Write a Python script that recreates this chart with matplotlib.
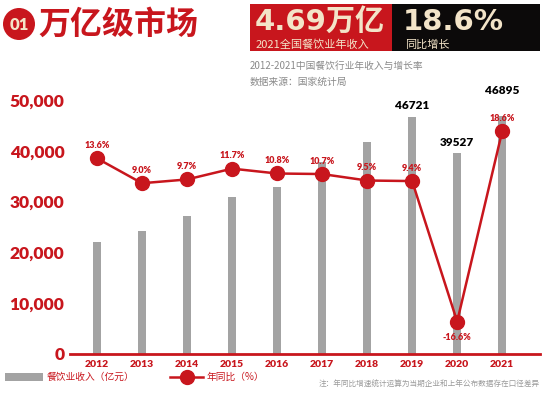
import matplotlib
matplotlib.use("Agg")
import matplotlib.pyplot as plt
from matplotlib.patches import Rectangle, Ellipse
from matplotlib.lines import Line2D

plt.rcParams['font.family'] = ['Lato', 'Noto Sans CJK SC', 'DejaVu Sans']

years = ["2012", "2013", "2014", "2015", "2016", "2017", "2018", "2019", "2020", "2021"]
revenue = [22000, 24300, 27200, 31000, 32800, 37700, 41700, 46721, 39527, 46895]
growth = [13.6, 9.0, 9.7, 11.7, 10.8, 10.7, 9.5, 9.4, -16.6, 18.6]
labeled_years = ["2019", "2020", "2021"]
yticks = [0, 10000, 20000, 30000, 40000, 50000]

RED = "#c8161d"
GRAY = "#a3a3a3"
CREAM = "#f3e4c8"
CJK = ['Noto Sans CJK SC', 'DejaVu Sans']
BIG = ['DejaVu Sans', 'Noto Sans CJK SC']

W, H = 550, 394


def fx(x):
    return x / W


def fy(y):
    return 1 - y / H


fig = plt.figure(figsize=(5.5, 3.94), dpi=100)
fig.patch.set_facecolor("white")

ax = fig.add_axes([fx(70), fy(354), fx(540) - fx(70), fy(100) - fy(354)])
ax2 = ax.twinx()

x = list(range(len(years)))
ax.bar(x, revenue, width=0.19, color=GRAY, zorder=1)
ax.set_xlim(-0.6, 9.84)
ax.set_ylim(0, 50000)
ax.set_yticks(yticks)
ax.set_yticklabels([f"{v:,}" for v in yticks], color=RED, fontsize=12.5,
                   fontweight="heavy")
ax.set_xticks(x)
ax.set_xticklabels(years, color=RED, fontsize=7.5, fontweight="heavy")
ax.tick_params(axis="both", length=0)
ax.tick_params(axis="y", pad=4)
ax.tick_params(axis="x", pad=4)
for s in ["top", "right", "left"]:
    ax.spines[s].set_visible(False)
ax.spines["bottom"].set_color(RED)
ax.spines["bottom"].set_linewidth(2)
ax.set_facecolor("none")

for xi, yr, v in zip(x, years, revenue):
    if yr in labeled_years:
        off = 14 if yr == "2021" else 4
        ax.annotate(str(v), (xi, v), xytext=(0, off), textcoords="offset points",
                    ha="center", va="bottom", fontsize=8.5, fontweight="heavy",
                    color="black")

ax2.plot(x, growth, color=RED, lw=1.8, marker="o", markersize=10, zorder=3)
ax2.set_ylim(-22.6, 24.4)
ax2.set_yticks([])
for s in ["top", "right", "left", "bottom"]:
    ax2.spines[s].set_visible(False)
for xi, g in zip(x, growth):
    if g < 0:
        ax2.annotate(f"{g:.1f}%", (xi, g), xytext=(0, -8), textcoords="offset points",
                     ha="center", va="top", fontsize=6.5, fontweight="heavy", color=RED)
    else:
        ax2.annotate(f"{g:.1f}%", (xi, g), xytext=(0, 6), textcoords="offset points",
                     ha="center", va="bottom", fontsize=6.5, fontweight="heavy", color=RED)

# header: badge + title
fig.patches.append(Ellipse((fx(19), fy(24)), fx(32), 32 / H, transform=fig.transFigure,
                           facecolor=RED, edgecolor="none"))
fig.text(fx(19), fy(25), "01", color=CREAM, fontsize=12, fontweight="heavy",
         ha="center", va="center")
fig.text(fx(38), fy(25), "万亿级市场", color=RED, fontsize=23, fontweight="heavy",
         family=CJK, ha="left", va="center")

# highlight boxes
fig.patches.append(Rectangle((fx(250), fy(51)), fx(142), 47 / H, transform=fig.transFigure,
                             facecolor=RED, edgecolor="none"))
fig.patches.append(Rectangle((fx(392), fy(51)), fx(148), 47 / H, transform=fig.transFigure,
                             facecolor="#0c0a0a", edgecolor="none"))
fig.text(fx(255), fy(22), "4.69万亿", color=CREAM, fontsize=21, fontweight="bold",
         family=BIG, ha="left", va="center")
fig.text(fx(256), fy(45), "2021全国餐饮业年收入", color=CREAM, fontsize=8,
         family=CJK, ha="left", va="center")
fig.text(fx(403), fy(22), "18.6%", color=CREAM, fontsize=21, fontweight="bold",
         family=BIG, ha="left", va="center")
fig.text(fx(405), fy(45), "同比增长", color=CREAM, fontsize=8,
         family=CJK, ha="left", va="center")

fig.text(fx(250), fy(66), "2012-2021中国餐饮行业年收入与增长率", color="#8a8a8a",
         fontsize=7, family=CJK, ha="left", va="center")
fig.text(fx(250), fy(82), "数据来源：国家统计局", color="#8a8a8a",
         fontsize=7, family=CJK, ha="left", va="center")

# legend
fig.patches.append(Rectangle((fx(5), fy(381)), fx(38), 8 / H, transform=fig.transFigure,
                             facecolor=GRAY, edgecolor="none"))
fig.text(fx(47), fy(377), "餐饮业收入（亿元）", color=RED, fontsize=7, family=CJK,
         ha="left", va="center")
fig.lines.append(Line2D([fx(170), fx(203)], [fy(377), fy(377)], transform=fig.transFigure,
                        color=RED, lw=1.8, marker=None))
fig.lines.append(Line2D([fx(186.5)], [fy(377)], transform=fig.transFigure,
                        color=RED, marker="o", markersize=10))
fig.text(fx(207), fy(377), "年同比（%）", color=RED, fontsize=7, family=CJK,
         ha="left", va="center")
fig.text(fx(540), fy(385), "注：年同比增速统计运算为当期企业和上年公布数据存在口径差异",
         color="#9a9a9a", fontsize=5.5, family=CJK, ha="right", va="center")

fig.savefig("out.png", dpi=100)
